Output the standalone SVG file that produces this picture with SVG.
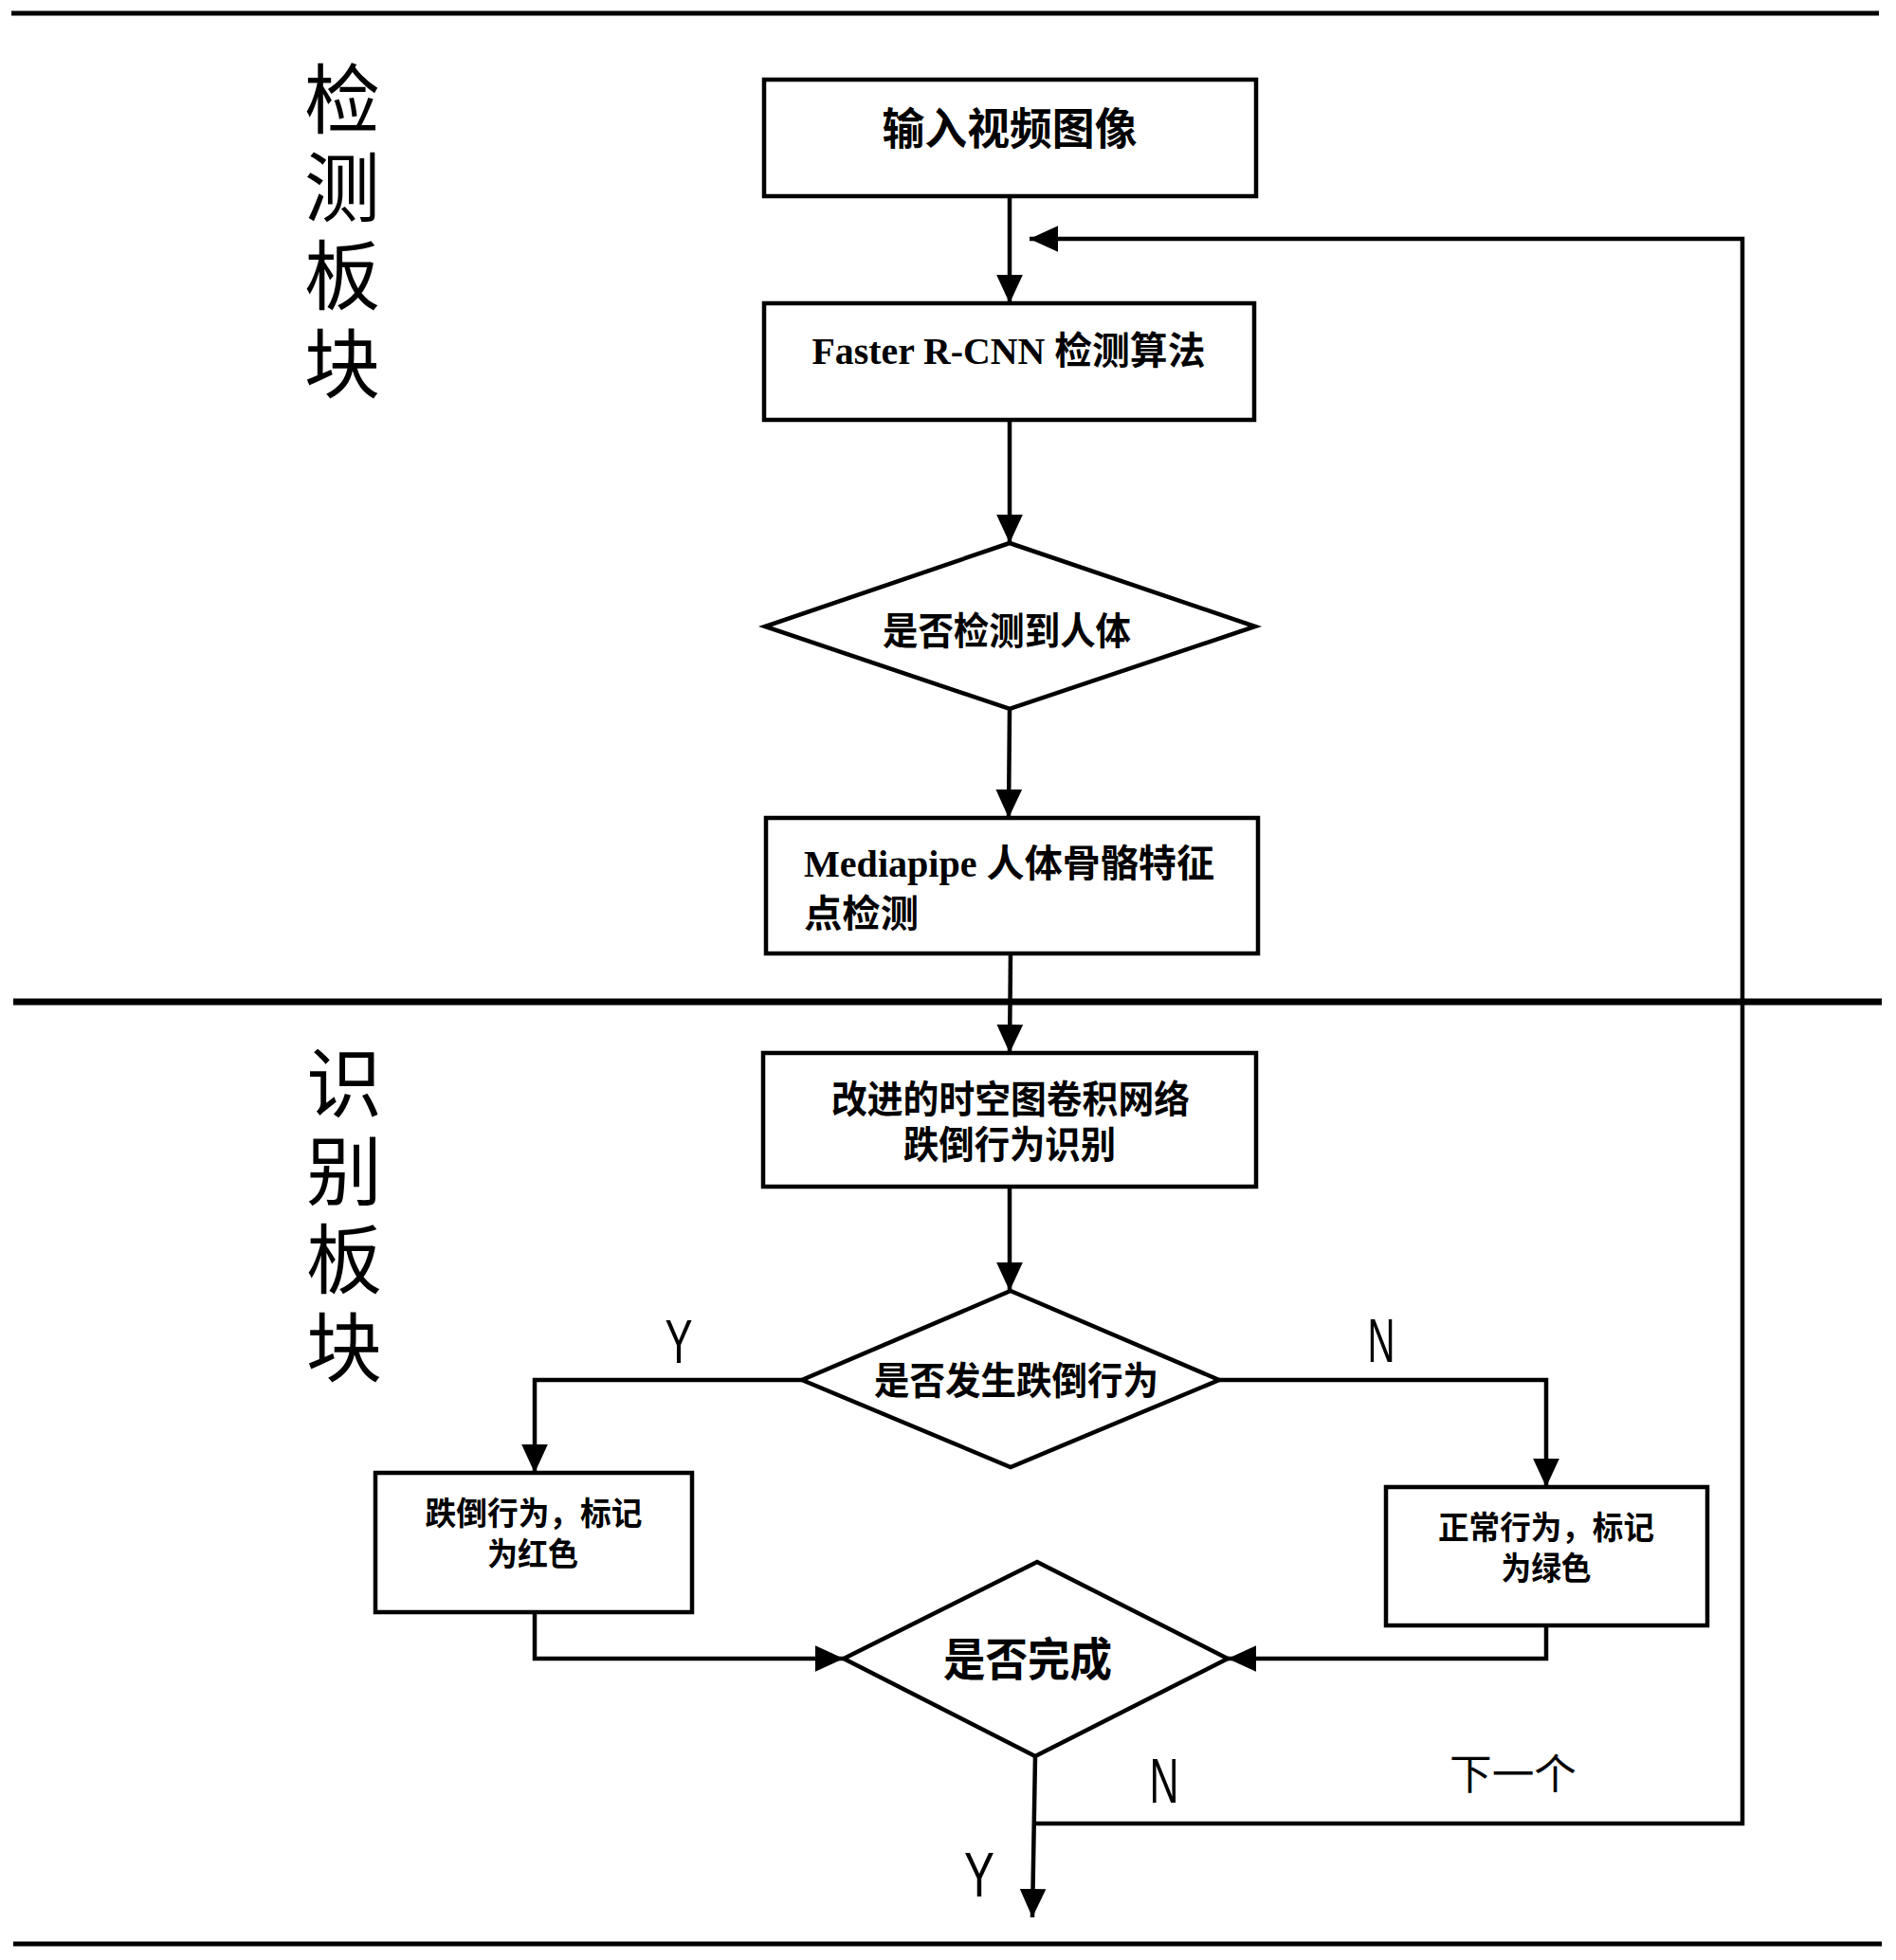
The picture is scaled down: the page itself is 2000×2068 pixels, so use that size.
<svg xmlns="http://www.w3.org/2000/svg" width="2000" height="2068" viewBox="0 0 2000 2068">
<defs>
<style>
.bg{fill:#fff}
.sep{stroke:#000;fill:none}
.box{fill:#fff;stroke:#000;stroke-width:4.5}
.con{fill:none;stroke:#000;stroke-width:4.5}
.t{font-family:"Liberation Serif","Noto Sans CJK SC",serif;font-weight:bold;fill:#000;text-anchor:middle;dominant-baseline:central}
.side{font-family:"Noto Sans CJK SC",sans-serif;font-size:80px;fill:#000;writing-mode:vertical-rl;letter-spacing:13px}
.lbl{font-family:"Liberation Sans","Noto Sans CJK SC",sans-serif;fill:#000;text-anchor:middle;dominant-baseline:central}
</style>
<marker id="arr" markerUnits="userSpaceOnUse" markerWidth="30" markerHeight="30" viewBox="0 0 26 24" refX="26" refY="12" orient="auto">
<path d="M0,0 L26,12 L0,24 Z" fill="#000"/>
</marker>
</defs>
<rect class="bg" x="0" y="0" width="2000" height="2068"/>

<g id="separators">
<line class="sep" x1="12" y1="14" x2="1982" y2="14" stroke-width="5"/>
<line class="sep" x1="14" y1="1057" x2="1985" y2="1057" stroke-width="7"/>
<line class="sep" x1="14" y1="2051" x2="1985" y2="2051" stroke-width="5"/>
</g>

<g id="section-detect">
<text class="side" x="361" y="64">检测板块</text>
</g>
<g id="section-recognize">
<text class="side" x="363" y="1102">识别板块</text>
</g>

<g id="connectors">
<line class="con" x1="1065" y1="207" x2="1065" y2="320" marker-end="url(#arr)"/>
<path class="con" d="M1091,1924 H1838 V252 H1086" marker-end="url(#arr)"/>
<line class="con" x1="1065" y1="443" x2="1065" y2="573" marker-end="url(#arr)"/>
<line class="con" x1="1065" y1="748" x2="1064" y2="863" marker-end="url(#arr)"/>
<line class="con" x1="1066" y1="1006" x2="1065" y2="1111" marker-end="url(#arr)"/>
<line class="con" x1="1065" y1="1252" x2="1065" y2="1362" marker-end="url(#arr)"/>
<path class="con" d="M846,1456 H564 V1554" marker-end="url(#arr)"/>
<path class="con" d="M1286,1456 H1631 V1569" marker-end="url(#arr)"/>
<path class="con" d="M564,1701 V1750 H890" marker-end="url(#arr)"/>
<path class="con" d="M1631,1715 V1750 H1295" marker-end="url(#arr)"/>
<line class="con" x1="1092" y1="1853" x2="1089" y2="2023" marker-end="url(#arr)"/>
</g>

<g id="n1">
<rect class="box" x="806" y="84" width="519" height="123"/>
<text class="t" x="1065" y="136" font-size="46" textLength="269" lengthAdjust="spacingAndGlyphs">输入视频图像</text>
</g>
<g id="n2">
<rect class="box" x="806" y="320" width="517" height="123"/>
<text class="t" x="1064" y="370" font-size="40" textLength="415" lengthAdjust="spacingAndGlyphs">Faster R-CNN 检测算法</text>
</g>
<g id="n3">
<polygon class="box" points="1065,573 1324,661 1065,748 807,661"/>
<text class="t" x="1062" y="666" font-size="40" textLength="262" lengthAdjust="spacingAndGlyphs">是否检测到人体</text>
</g>
<g id="n4">
<rect class="box" x="808" y="863" width="519" height="143"/>
<text class="t" x="848" y="911" font-size="40" style="text-anchor:start" textLength="433" lengthAdjust="spacingAndGlyphs">Mediapipe 人体骨骼特征</text>
<text class="t" x="848" y="964" font-size="40" style="text-anchor:start" textLength="121" lengthAdjust="spacingAndGlyphs">点检测</text>
</g>
<g id="n5">
<rect class="box" x="805" y="1111" width="520" height="141"/>
<text class="t" x="1066" y="1160" font-size="40" textLength="378" lengthAdjust="spacingAndGlyphs">改进的时空图卷积网络</text>
<text class="t" x="1065" y="1208" font-size="40" textLength="224" lengthAdjust="spacingAndGlyphs">跌倒行为识别</text>
</g>
<g id="n6">
<polygon class="box" points="1066,1362 1286,1456 1066,1548 846,1456"/>
<text class="t" x="1072" y="1457" font-size="40" textLength="300" lengthAdjust="spacingAndGlyphs">是否发生跌倒行为</text>
</g>
<g id="n7">
<rect class="box" x="396" y="1554" width="334" height="147"/>
<text class="t" x="563" y="1597" font-size="34" textLength="229" lengthAdjust="spacingAndGlyphs">跌倒行为，标记</text>
<text class="t" x="562" y="1640" font-size="34" textLength="96" lengthAdjust="spacingAndGlyphs">为红色</text>
</g>
<g id="n8">
<rect class="box" x="1462" y="1569" width="339" height="146"/>
<text class="t" x="1631" y="1612" font-size="34" textLength="228" lengthAdjust="spacingAndGlyphs">正常行为，标记</text>
<text class="t" x="1631" y="1655" font-size="34" textLength="95" lengthAdjust="spacingAndGlyphs">为绿色</text>
</g>
<g id="n9">
<polygon class="box" points="1094,1648 1295,1750 1092,1853 890,1750"/>
<text class="t" x="1084" y="1751" font-size="48" textLength="178" lengthAdjust="spacingAndGlyphs">是否完成</text>
</g>

<g id="labels">
<text class="lbl" x="716" y="1416" font-size="64" textLength="29" lengthAdjust="spacingAndGlyphs">Y</text>
<text class="lbl" x="1457" y="1415" font-size="64" textLength="29" lengthAdjust="spacingAndGlyphs">N</text>
<text class="lbl" x="1228" y="1879" font-size="66" textLength="31" lengthAdjust="spacingAndGlyphs">N</text>
<text class="lbl" x="1596" y="1872" font-size="44" textLength="134" lengthAdjust="spacingAndGlyphs">下一个</text>
<text class="lbl" x="1033" y="1978" font-size="66" textLength="32" lengthAdjust="spacingAndGlyphs">Y</text>
</g>
</svg>
